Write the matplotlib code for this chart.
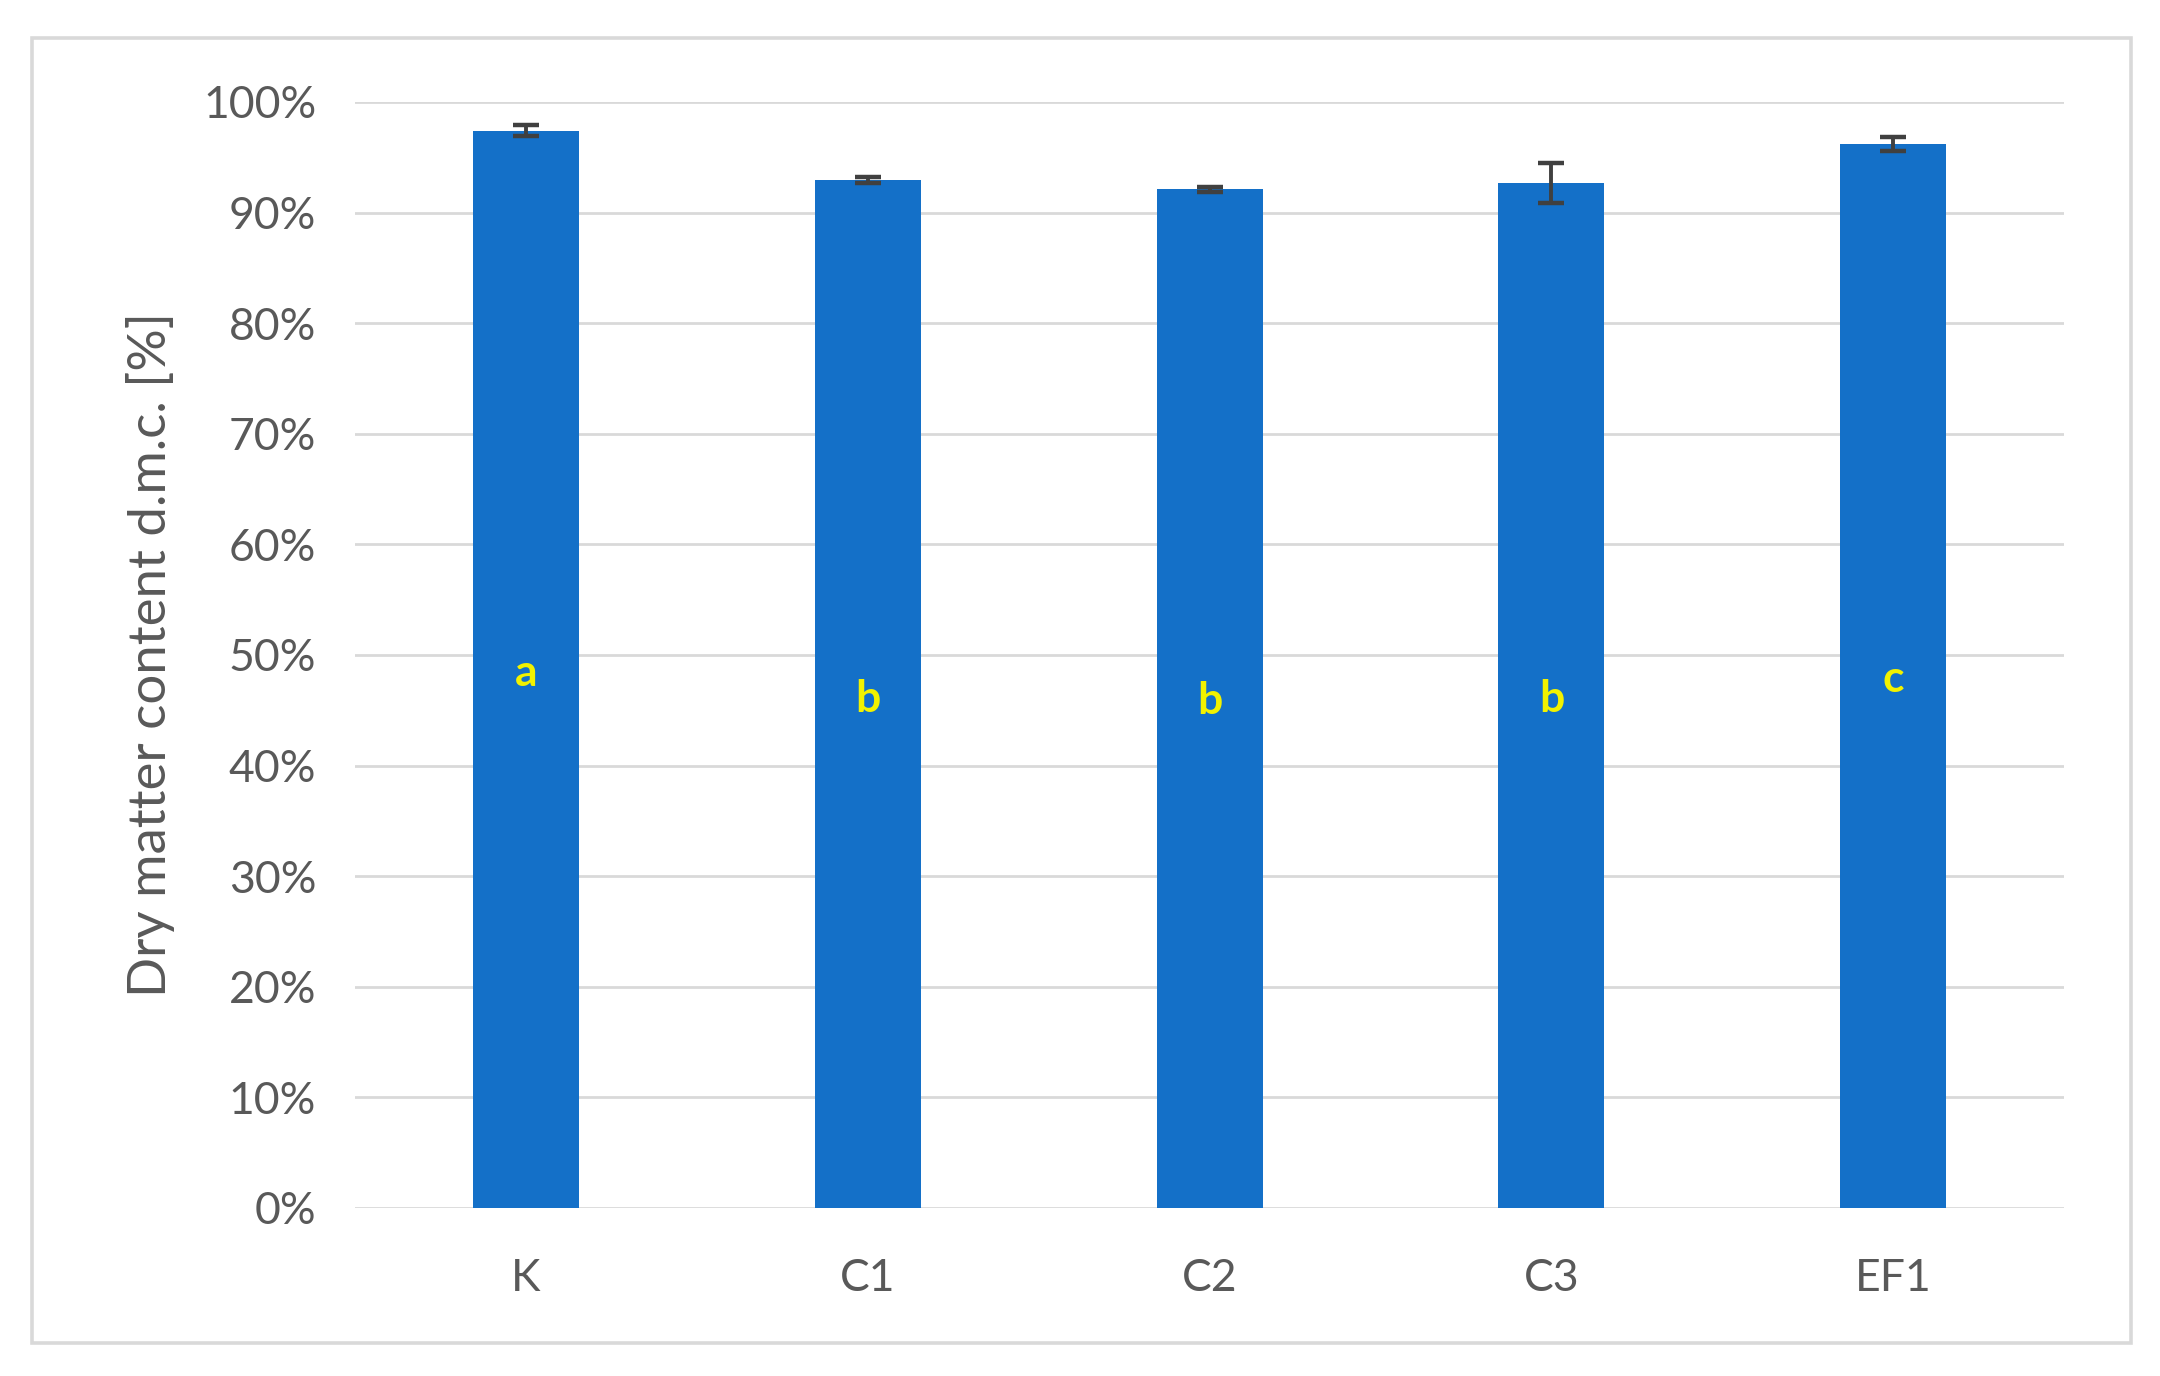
import numpy as np
import matplotlib.pyplot as plt
from matplotlib.patches import Rectangle

# データ
categories = ['K', 'C1', 'C2', 'C3', 'EF1']
dmc = [0.974, 0.9295, 0.921, 0.9265, 0.962]       # 乾物含量
dmc_err = [0.005, 0.003, 0.002, 0.018, 0.006]     # 誤差
groups = ['a', 'b', 'b', 'b', 'c']                # 有意差の文字
group_y = [0.484, 0.460, 0.458, 0.460, 0.478]     # 文字の高さ
yticks = np.arange(0, 1.01, 0.1)

plt.rcParams['font.family'] = ['Lato', 'DejaVu Sans']

fig = plt.figure(figsize=(10.8, 6.88), dpi=200)
ax = fig.add_axes([0.1644, 0.1221, 0.7912, 0.8038])

x = np.arange(len(categories))
ax.bar(x, dmc, width=0.31, color='#1470C8', zorder=2)
ax.errorbar(x, dmc, yerr=dmc_err, fmt='none', ecolor='#404040',
            elinewidth=1.4, capsize=4.8, capthick=1.6, zorder=3)

for xi, g, gy in zip(x, groups, group_y):
    ax.text(xi, gy, g, color='#F2F200', fontsize=16, fontweight='bold',
            ha='center', va='center', zorder=4)

ax.set_xlim(-0.5, len(categories) - 0.5)
ax.set_ylim(0, 1.0)
ax.set_yticks(yticks)
ax.set_yticklabels([f'{int(round(v * 100))}%' for v in yticks])
ax.set_xticks(x)
ax.set_xticklabels(categories)
ax.tick_params(axis='both', length=0, labelsize=16, labelcolor='#595959')
ax.tick_params(axis='y', pad=14)
ax.tick_params(axis='x', pad=18)
ax.grid(axis='y', color='#d9d9d9', linewidth=1.0, zorder=0)
ax.set_axisbelow(True)
for s in ax.spines.values():
    s.set_visible(False)
ax.set_ylabel('Dry matter content d.m.c. [%]', fontsize=19, color='#595959', labelpad=10)

# 外枠
fig.patches.append(Rectangle((0.0148, 0.024), 0.9718, 0.9484, transform=fig.transFigure,
                             fill=False, edgecolor='#d9d9d9', linewidth=1.3))

fig.savefig('out.png', dpi=200)
